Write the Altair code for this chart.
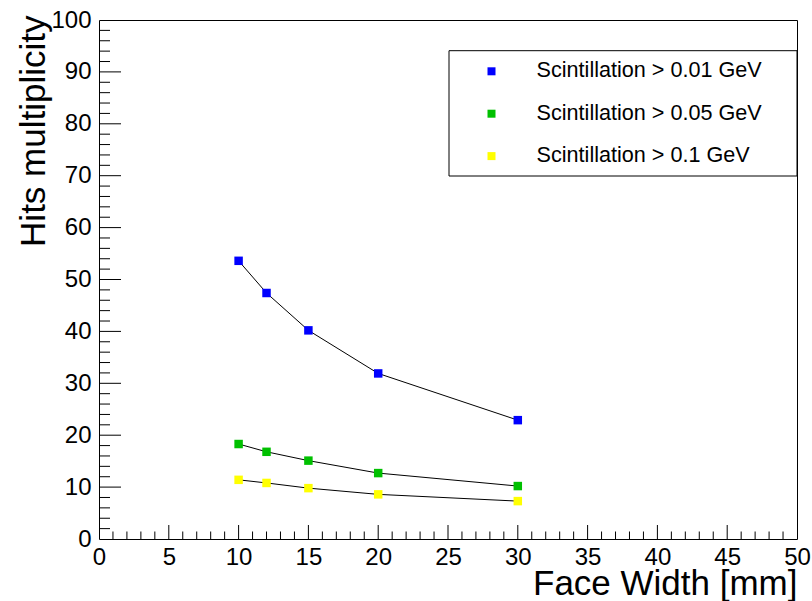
import altair as alt
import pandas as pd

# ---- data ----
face_width = [10, 12, 15, 20, 30]
series_names = ["Scintillation > 0.01 GeV", "Scintillation > 0.05 GeV", "Scintillation > 0.1 GeV"]
hits_001 = [53.6, 47.4, 40.2, 31.9, 22.9]
hits_005 = [18.3, 16.8, 15.1, 12.7, 10.2]
hits_01 = [11.4, 10.8, 9.8, 8.6, 7.3]
series_colors = ["#0000ff", "#00c000", "#ffff00"]

x_major = [0, 5, 10, 15, 20, 25, 30, 35, 40, 45, 50]
x_minor = [v for v in range(0, 51) if v % 5 != 0]
y_major = [0, 10, 20, 30, 40, 50, 60, 70, 80, 90, 100]
y_minor = [v for v in range(0, 101, 2) if v % 10 != 0]

W, H = 698, 519
FONT = "Liberation Sans"

rows = []
for name, vals in zip(series_names, [hits_001, hits_005, hits_01]):
    for xv, yv in zip(face_width, vals):
        rows.append({"width": xv, "hits": yv, "series": name})
df = pd.DataFrame(rows)

xscale = alt.Scale(domain=[0, 50], nice=False, zero=False)
yscale = alt.Scale(domain=[0, 100], nice=False, zero=False)

x_axis = alt.Axis(
    values=x_major, format="d", grid=False, ticks=False, tickSize=0, domain=False,
    labelFont=FONT, labelFontSize=24, labelColor="black", labelPadding=6,
    labelFlush=False, labelOverlap=False,
    title="Face Width [mm]", titleFont=FONT, titleFontSize=35, titleFontWeight="normal",
    titleColor="black", titleX=W, titleY=55, titleAlign="right", titleBaseline="alphabetic",
)
y_axis = alt.Axis(
    values=y_major, format="d", grid=False, ticks=False, tickSize=0, domain=False,
    labelFont=FONT, labelFontSize=24, labelColor="black", labelPadding=8,
    labelFlush=False, labelOverlap=False,
    title="Hits multiplicity", titleFont=FONT, titleFontSize=35, titleFontWeight="normal",
    titleColor="black", titleX=-55, titleY=-5, titleAngle=270, titleAlign="right",
    titleBaseline="alphabetic",
)

color = alt.Color(
    "series:N",
    scale=alt.Scale(domain=series_names, range=series_colors),
    sort=series_names,
    legend=alt.Legend(
        orient="none", legendX=381.7, legendY=40.5, title=None, padding=0,
        symbolType="square", symbolSize=64, symbolStrokeWidth=0,
        labelFont=FONT, labelFontSize=21.6, labelColor="black", labelOffset=34.3,
        rowPadding=19.4, labelLimit=400,
    ),
)

base = alt.Chart(df)
lines = base.mark_line(color="black", strokeWidth=1).encode(
    x=alt.X("width:Q", scale=xscale, axis=x_axis, title="Face Width [mm]"),
    y=alt.Y("hits:Q", scale=yscale, axis=y_axis, title="Hits multiplicity"),
    detail="series:N",
)
points = base.mark_square(size=72, opacity=1, filled=True).encode(
    x=alt.X("width:Q", scale=xscale, axis=x_axis, title="Face Width [mm]"),
    y=alt.Y("hits:Q", scale=yscale, axis=y_axis, title="Hits multiplicity"),
    color=color,
)

xt_major = alt.Chart(pd.DataFrame({"width": x_major[1:-1]})).mark_rule(color="black", strokeWidth=1).encode(
    x=alt.X("width:Q", scale=xscale, axis=x_axis, title="Face Width [mm]"),
    y=alt.value(H), y2=alt.value(H - 14),
)
xt_minor = alt.Chart(pd.DataFrame({"width": x_minor})).mark_rule(color="black", strokeWidth=1).encode(
    x=alt.X("width:Q", scale=xscale, axis=x_axis, title="Face Width [mm]"),
    y=alt.value(H), y2=alt.value(H - 7.5),
)
yt_major = alt.Chart(pd.DataFrame({"hits": y_major[1:-1]})).mark_rule(color="black", strokeWidth=1).encode(
    y=alt.Y("hits:Q", scale=yscale, axis=y_axis, title="Hits multiplicity"),
    x=alt.value(0), x2=alt.value(22),
)
yt_minor = alt.Chart(pd.DataFrame({"hits": y_minor})).mark_rule(color="black", strokeWidth=1).encode(
    y=alt.Y("hits:Q", scale=yscale, axis=y_axis, title="Hits multiplicity"),
    x=alt.value(0), x2=alt.value(11),
)

one = pd.DataFrame({"a": [0]})
legend_box = alt.Chart(one).mark_rect(fill="white", stroke="black", strokeWidth=1).encode(
    x=alt.value(350), x2=alt.value(W), y=alt.value(30.7), y2=alt.value(156)
)

chart = alt.layer(lines, points, xt_major, xt_minor, yt_major, yt_minor, legend_box).properties(
    width=W, height=H,
    autosize=alt.AutoSizeParams(type="none"),
    padding={"left": 99, "top": 20, "right": 15, "bottom": 62},
    background="white",
).configure(
    font=FONT,
    view=alt.ViewConfig(stroke="black", strokeWidth=1),
)

chart.save("out.html", embed_options={"renderer": "svg", "actions": False})
